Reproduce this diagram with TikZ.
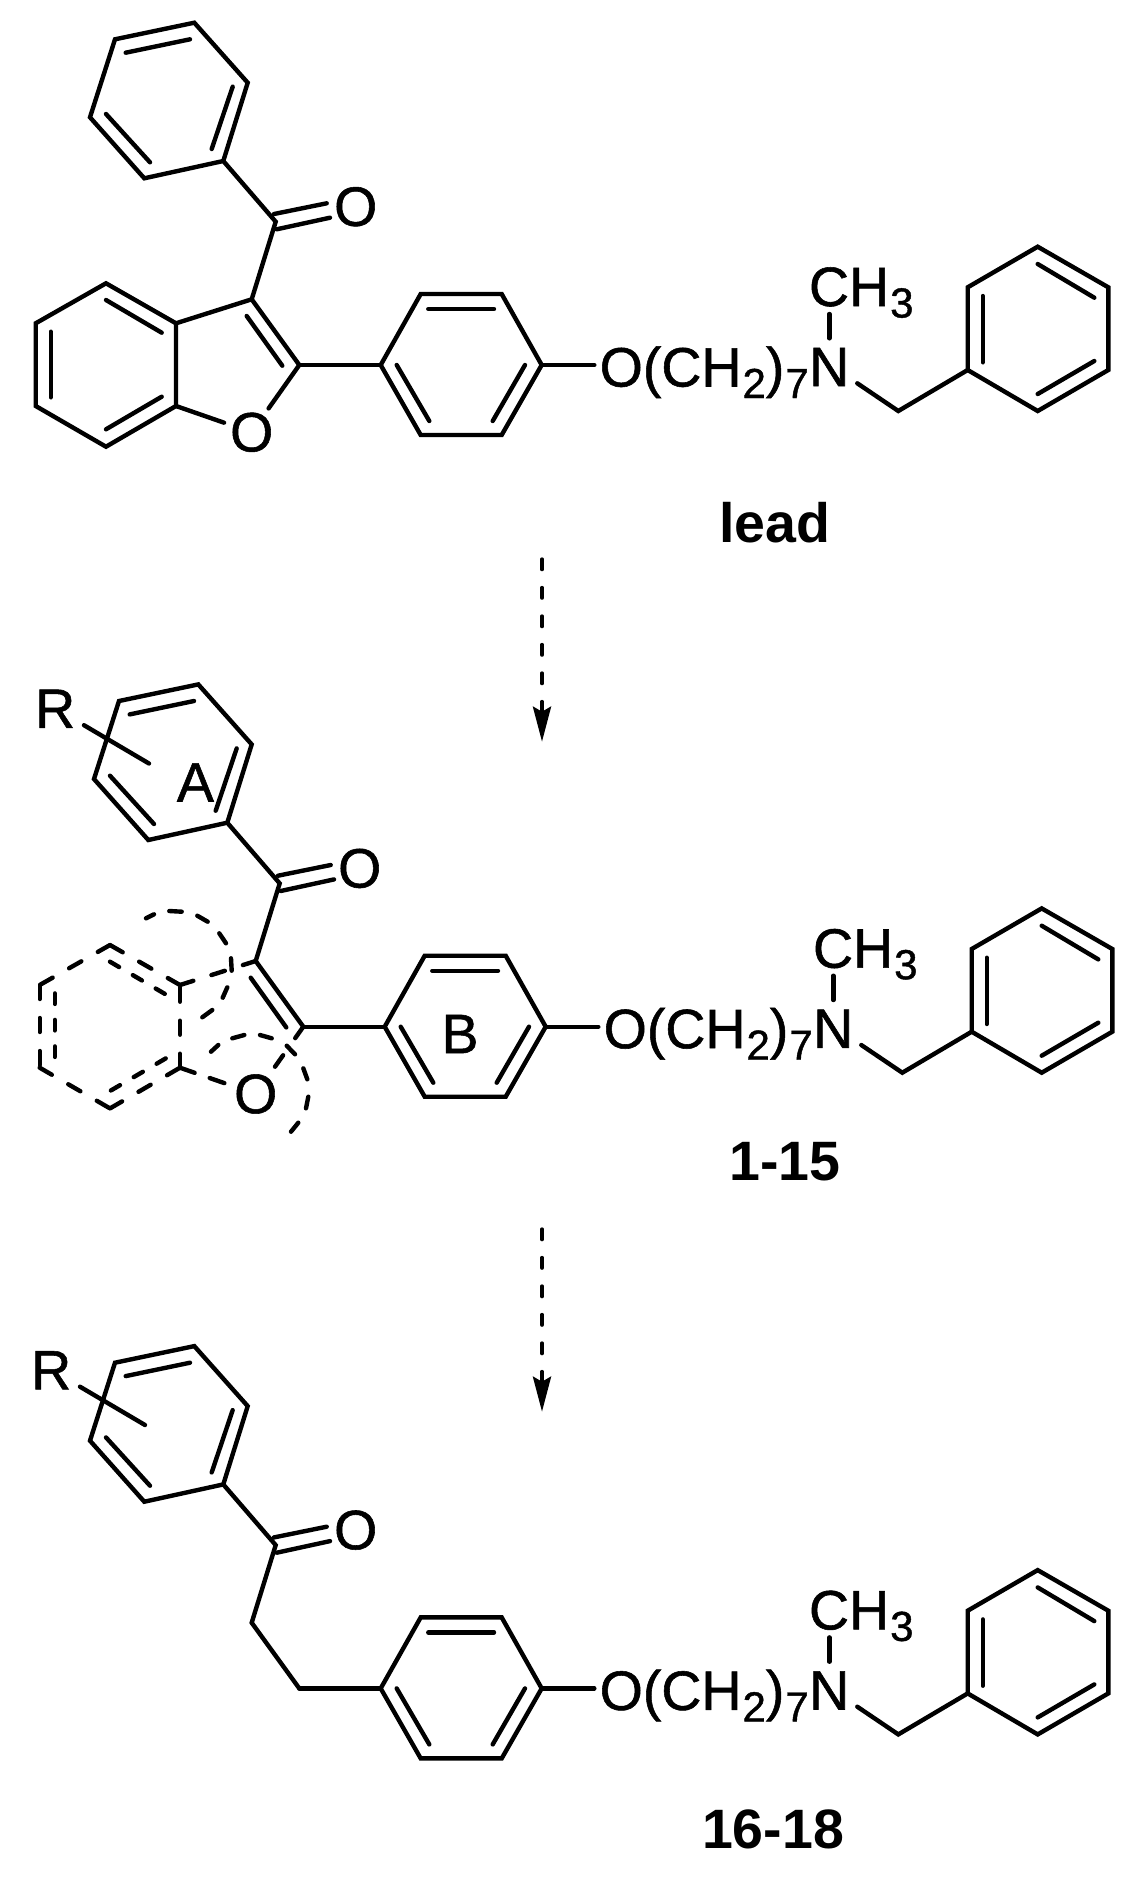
\documentclass[tikz,border=0pt]{standalone}
\usepackage{fontspec}
\setmainfont{Liberation Sans}
\newfontfamily\atomfamily[FakeBold=1]{Liberation Sans}
\usetikzlibrary{arrows.meta}
\tikzset{
  bond/.style={line width=4.4pt,line cap=round,line join=miter,miter limit=6},
  dbond/.style={bond,dash pattern=on 14pt off 19pt},
  dinner/.style={bond,dash pattern=on 10.5pt off 16pt},
  dtwo/.style={bond,dash pattern=on 15.5pt off 16pt},
  dthree/.style={bond,dash pattern=on 14pt off 21pt},
  atom/.style={circle,inner sep=0pt,minimum size=57pt,font=\atomfont},
  txt/.style={inner sep=0pt,font=\atomfont},
  boldlabel/.style={inner sep=0pt,font=\bfseries\fontsize{55.5}{58}\selectfont},
  flow/.style={line width=4pt,line cap=round,dash pattern=on 10pt off 18.5pt,-{Stealth[length=35pt,width=18pt,inset=5pt]}}
}
\newcommand\atomfont{\atomfamily\fontsize{55.5}{60}\selectfont}
\newcommand\subdig[1]{\kern1pt\raisebox{-11.5pt}{\fontsize{42}{43}\selectfont #1}}
\newcommand\innerbond[4][bond]{\coordinate (#2s) at (#3); \coordinate (#2e) at (#4); \draw[#1] (#2s) -- (#2e);}
% ring A, carbonyl, ring B and the amine tail, common to the three molecules
\newcommand\scaffold[1]{%
  \coordinate (#1a) at (194.3,22.7);
  \coordinate (#1b) at (247.7,82.7);
  \coordinate (#1c) at (223.3,161);
  \coordinate (#1d) at (144.3,178.3);
  \coordinate (#1e) at (90,117.3);
  \coordinate (#1f) at (115,39.3);
  \draw[bond] (#1a)--(#1b)--(#1c)--(#1d)--(#1e)--(#1f)--cycle;
  \innerbond{#1ia}{125.7,52.7}{190,39.3}
  \innerbond{#1ib}{211.7,149}{232.7,86.7}
  \innerbond{#1ic}{150,162.3}{106,114}
  \coordinate (#1co) at (275.7,221.7);
  \coordinate (#1c3) at (251.7,299.3);
  \coordinate (#1c2) at (299.3,365);
  \draw[bond] (#1c)--(#1co)--(#1c3);
  \node[atom] (#1oxo) at (355.7,206.7) {O};
  \innerbond{#1d1}{274,214}{326.7,203.3}
  \innerbond{#1d2}{276.7,229.3}{330,217.7}
  \coordinate (#1r1) at (380.7,365);
  \coordinate (#1r2) at (420.7,294);
  \coordinate (#1r3) at (501.7,294);
  \coordinate (#1r4) at (541.7,365);
  \coordinate (#1r5) at (501.7,435);
  \coordinate (#1r6) at (420.7,435);
  \draw[bond] (#1r1)--(#1r2)--(#1r3)--(#1r4)--(#1r5)--(#1r6)--cycle;
  \innerbond{#1ra}{428.3,309}{494,309}
  \innerbond{#1rb}{396.7,365}{429.3,421}
  \innerbond{#1rc}{525,365}{492.7,421}
  \draw[bond] (#1c2)--(#1r1);
  \node[txt,anchor=base west] (#1chain) at (599.5,386.5) {O(CH\subdig{2})\subdig{7}};
  \draw[bond,shorten >=5.2pt] (#1r4)--(#1r4 -| #1chain.west);
  \node[atom] (#1N) at (829.2,367) {N};
  \node[txt,anchor=base west] (#1me) at (808.8,306) {CH\subdig{3}};
  \coordinate (#1nm) at (829.3,314);
  \coordinate (#1nn) at (829.3,338.3);
  \draw[bond] (#1nm)--(#1nn);
  \coordinate (#1nb) at (857.3,383.3);
  \coordinate (#1ch) at (898.3,411);
  \coordinate (#1p1) at (967.7,370);
  \coordinate (#1p2) at (967.7,287.3);
  \coordinate (#1p3) at (1037.7,246.7);
  \coordinate (#1p4) at (1108.3,287.3);
  \coordinate (#1p5) at (1108.3,370);
  \coordinate (#1p6) at (1037.7,411);
  \draw[bond] (#1nb)--(#1ch)--(#1p1);
  \draw[bond] (#1p1)--(#1p2)--(#1p3)--(#1p4)--(#1p5)--(#1p6)--cycle;
  \innerbond{#1pa}{1037.7,264}{1094.3,297.7}
  \innerbond{#1pb}{982.7,296}{982.7,362.3}
  \innerbond{#1pc}{1037.7,394}{1094.3,361}
}
% coordinates of the benzofuran part
\newcommand\furanpts[1]{%
  \coordinate (#1c3a) at (176,323.3);
  \coordinate (#1c7a) at (176,406);
  \coordinate (#1b1) at (106,283.3);
  \coordinate (#1b2) at (35.7,323.3);
  \coordinate (#1b3) at (35.7,406);
  \coordinate (#1b4) at (106,446.7);
  \node[atom] (#1ox) at (251.7,432.3) {O};
}
\begin{document}
\begin{tikzpicture}[x=1pt,y=-1pt]
\useasboundingbox (0,0) rectangle (1135,1877);
% ---- lead
\begin{scope}
  \scaffold{l}
  \furanpts{l}
  \draw[bond] (lc3a)--(lb1)--(lb2)--(lb3)--(lb4)--(lc7a)--cycle;
  \draw[bond] (lc3a)--(lc3)--(lc2);
  \draw[bond] (lc2)--(lox);
  \draw[bond] (lc7a)--(lox);
  \innerbond{lqa}{106,300}{161.7,332.7}
  \innerbond{lqb}{50.7,331.7}{50.7,397.3}
  \innerbond{lqc}{106,429.3}{161.7,396.7}
  \innerbond{lqd}{246.7,316}{282.3,365.7}
\end{scope}
\node[boldlabel] (leadlabel) at (775,523) {lead};
\coordinate (af1) at (542,559.3);
\coordinate (at1) at (542,741.7);
\draw[flow] (af1)--(at1);
% ---- 1-15
\begin{scope}[shift={(4,661.7)}]
  \scaffold{m}
  \furanpts{m}
  \draw[dbond] (mc3a)--(mb1);
  \draw[dbond] (mb1)--(mb2);
  \draw[dbond] (mb2)--(mb3);
  \draw[dbond] (mb3)--(mb4);
  \draw[dbond] (mb4)--(mc7a);
  \draw[dbond] (mc7a)--(mc3a);
  \draw[dbond] (mc3a)--(mc3);
  \draw[bond] (mc3)--(mc2);
  \draw[dthree] (mc2)--(mox);
  \draw[dtwo] (mc7a)--(mox);
  \innerbond[dinner]{mqa}{106,300}{161.7,332.7}
  \innerbond[dinner]{mqb}{50.7,331.7}{50.7,397.3}
  \innerbond[dinner]{mqc}{161.7,396.7}{106,429.3}
  \innerbond{mqd}{246.7,316}{282.3,365.7}
\end{scope}
\draw[bond] (146,918.3)--(154,914.3) (169.3,911)--(181.7,911.7) (197.3,915.7)--(207.7,921.7) (219.3,933.3)--(226,943.3) (231,958.3)--(231.7,970.7) (227.3,987.3)--(222.7,997.7) (212.3,1010)--(202.3,1017.3);
\draw[bond] (211,1051.7)--(218.3,1045) (232.3,1038.3)--(244.3,1035) (260,1035)--(271.7,1038.3) (286.7,1045.7)--(295,1054.3) (303.3,1068.3)--(307.3,1079.3) (308.3,1096.7)--(306,1108.3) (298.3,1122.7)--(291,1131.7);
\node[txt] (rm) at (55.2,708.8) {R};
\coordinate (rm1) at (84,725.2);
\coordinate (rm2) at (149,763.5);
\draw[bond] (rm1)--(rm2);
\node[txt] (ringa) at (195.4,782.4) {A};
\node[txt] (ringb) at (460,1034) {B};
\node[boldlabel] (label115) at (785,1162) {1-15};
\coordinate (af2) at (542,1229.3);
\coordinate (at2) at (542,1411.7);
\draw[flow] (af2)--(at2);
% ---- 16-18
\begin{scope}[shift={(0,1323.4)}]
  \scaffold{t}
  \draw[bond] (tc3)--(tc2);
\end{scope}
\node[txt] (rt) at (51.2,1370.3) {R};
\coordinate (rt1) at (80,1386.7);
\coordinate (rt2) at (145,1425);
\draw[bond] (rt1)--(rt2);
\node[boldlabel] (label1618) at (773,1829) {16-18};
\end{tikzpicture}
\end{document}
